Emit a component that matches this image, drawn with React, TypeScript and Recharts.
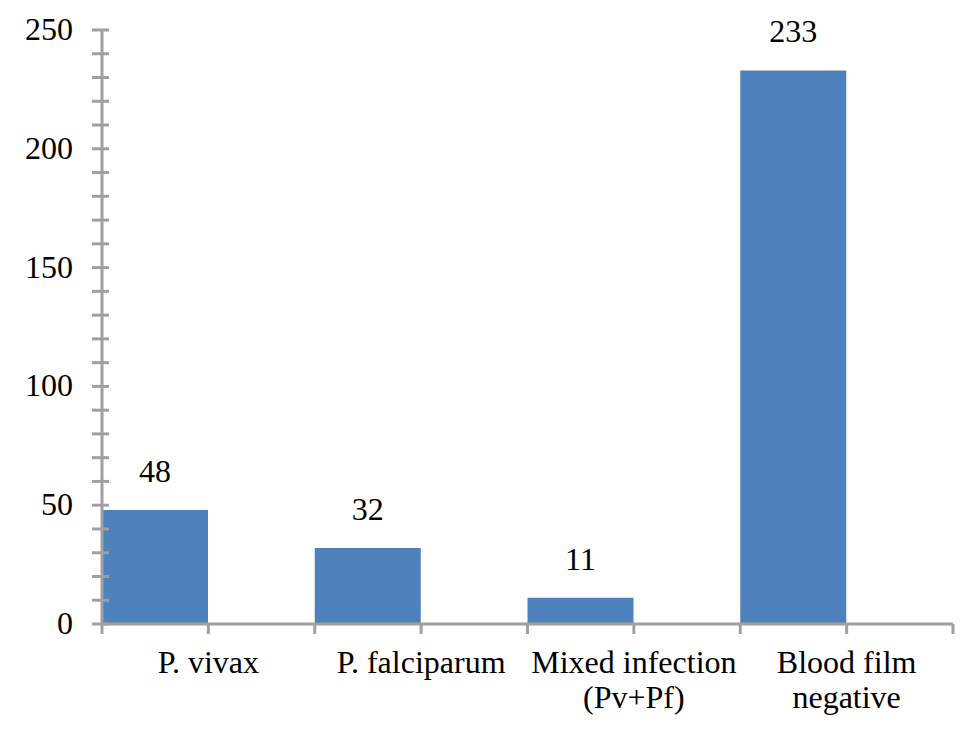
import { Bar, BarChart, LabelList, XAxis, YAxis } from "recharts";

const categories = [
  "P. vivax",
  "P. falciparum",
  "Mixed infection\n(Pv+Pf)",
  "Blood film\nnegative",
];
const cases = [48, 32, 11, 233];
const yTicks = [
  0, 10, 20, 30, 40, 50, 60, 70, 80, 90, 100, 110, 120, 130, 140, 150, 160,
  170, 180, 190, 200, 210, 220, 230, 240, 250,
];
const yLabelStep = 50;

const data = categories.map((name, i) => ({ name, cases: cases[i] }));

const W = 979;
const H = 736;
const LEFT = 102;
const RIGHT = 26;
const TOP = 30;
const BOTTOM = 112;
const AXIS = "#a0a0a0";
const FONT = "'Liberation Serif', 'DejaVu Serif', serif";
const bandWidth = (W - LEFT - RIGHT) / categories.length;
const textStyle = { fontFamily: FONT, fontSize: 32 };

function YTick(props: any) {
  const { x, y, payload } = props;
  const v = payload.value as number;
  return (
    <g>
      <line x1={x - 10} x2={x + 7} y1={y} y2={y} stroke={AXIS} strokeWidth={3} />
      {v % yLabelStep === 0 && (
        <text x={x - 29} y={y + 10} textAnchor="end" style={textStyle} fill="#000">
          {v}
        </text>
      )}
    </g>
  );
}

function XTick(props: any) {
  const { x, y, payload, index } = props;
  const lines = String(payload.value).split("\n");
  const marks = [x - bandWidth / 2, x];
  if (index === categories.length - 1) marks.push(x + bandWidth / 2);
  return (
    <g>
      {marks.map((mx) => (
        <line key={mx} x1={mx} x2={mx} y1={y} y2={y + 10} stroke={AXIS} strokeWidth={3} />
      ))}
      {lines.map((l, k) => (
        <text
          key={k}
          x={x}
          y={y + 49 + k * 35}
          textAnchor="middle"
          style={textStyle}
          fill="#000"
        >
          {l}
        </text>
      ))}
    </g>
  );
}

export default function App() {
  return (
    <div style={{ position: "absolute", left: 0, top: 0, background: "#fff", fontFamily: FONT }}>
      <BarChart
        width={W}
        height={H}
        data={data}
        margin={{ top: TOP, right: RIGHT, bottom: 0, left: 0 }}
        barCategoryGap={0}
        barGap={0}
        style={{ fontFamily: FONT }}
      >
        <XAxis
          dataKey="name"
          height={BOTTOM}
          interval={0}
          tickSize={0}
          tickMargin={0}
          tickLine={false}
          axisLine={{ stroke: AXIS, strokeWidth: 3 }}
          tick={(p: any) => <XTick {...p} />}
        />
        <YAxis
          width={LEFT}
          domain={[0, 250]}
          ticks={yTicks}
          interval={0}
          tickSize={0}
          tickMargin={0}
          tickLine={false}
          axisLine={{ stroke: AXIS, strokeWidth: 3 }}
          tick={(p: any) => <YTick {...p} />}
        />
        <Bar dataKey="cases" fill="#4f81bd" isAnimationActive={false}>
          <LabelList
            dataKey="cases"
            position="top"
            offset={28}
            fill="#000"
            style={textStyle}
          />
        </Bar>
        <Bar dataKey="blank" fill="none" isAnimationActive={false} />
      </BarChart>
    </div>
  );
}
